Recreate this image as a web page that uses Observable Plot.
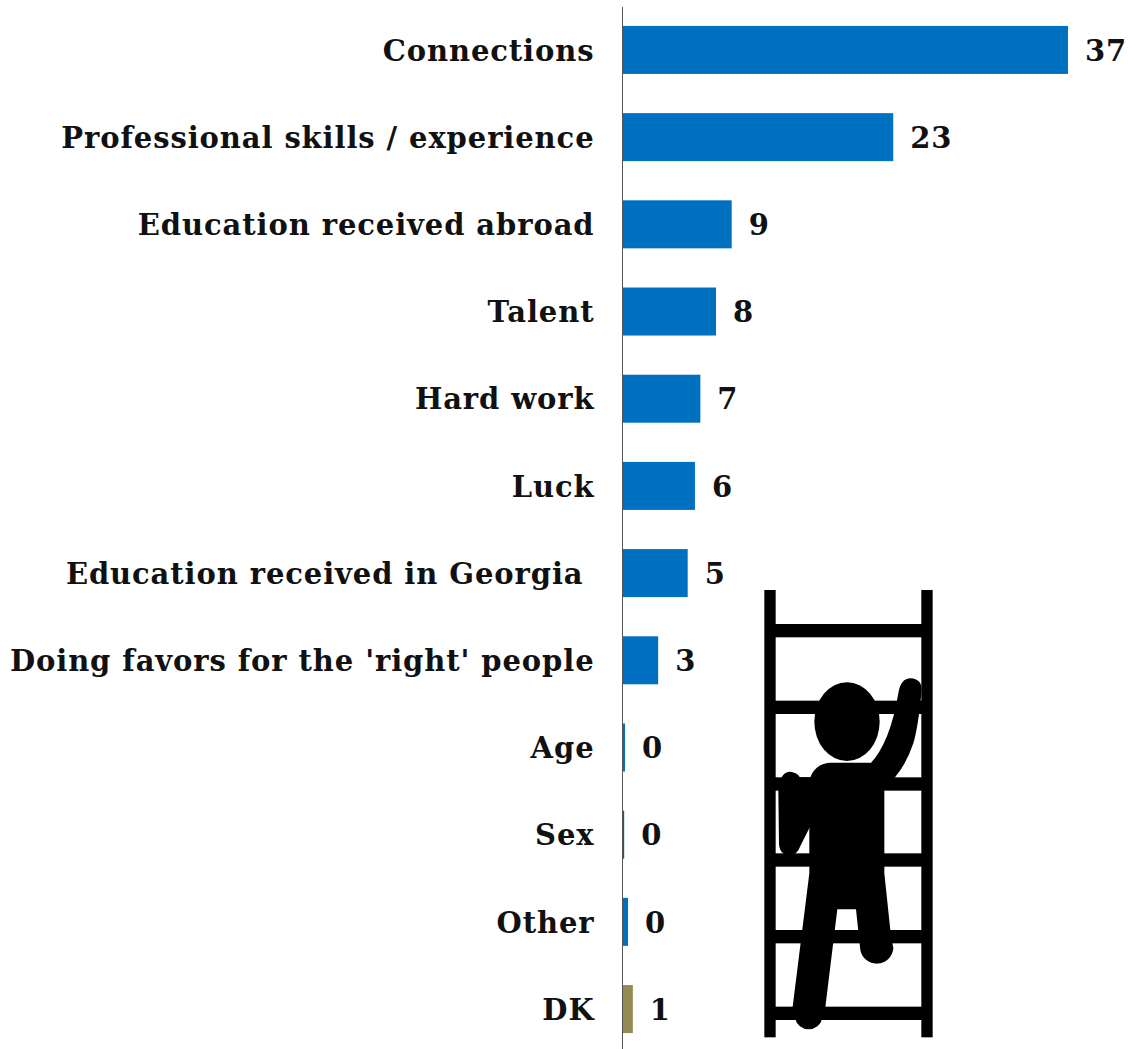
<!DOCTYPE html>
<html>
<head>
<meta charset="utf-8">
<script src="https://cdn.jsdelivr.net/npm/d3@7"></script>
<script src="https://cdn.jsdelivr.net/npm/@observablehq/plot@0.6"></script>
<style>
html,body{margin:0;padding:0;background:#fff;overflow:hidden}
svg text{letter-spacing:0.9px}
</style>
</head>
<body>
<div id="chart"></div>
<script>
const categories = ["Connections","Professional skills / experience","Education received abroad","Talent","Hard work","Luck","Education received in Georgia\u00a0","Doing favors for the 'right' people","Age","Sex","Other","DK"];
const barLengths = [37,22.5,9.1,7.8,6.5,6.05,5.45,3,0.25,0.18,0.5,0.9];
const valueLabels = ["37","23","9","8","7","6","5","3","0","0","0","1"];
const barColors = ["#0070c0","#0070c0","#0070c0","#0070c0","#0070c0","#0070c0","#0070c0","#0070c0","#0070c0","#0a5a96","#0070c0","#948a54"];

const rows = categories.map((c,i)=>({c, v:barLengths[i], label:valueLabels[i], color:barColors[i]}));
const FONT = "'DejaVu Serif', serif";

function climber(){
  const NS="http://www.w3.org/2000/svg";
  const g=document.createElementNS(NS,"g");
  g.setAttribute("transform","translate(750,580) scale(0.33333)");
  const rungs=[132,362,592,820,1050,1280];
  let html=`<rect x="43" y="30" width="34" height="1342"/><rect x="514" y="30" width="34" height="1342"/>`;
  for(const y of rungs) html+=`<rect x="60" y="${y}" width="470" height="40"/>`;
  html+=`<ellipse cx="291" cy="425" rx="98" ry="118"/>`;
  html+=`<path d="M178,600 Q192,552 240,548 L360,548 Q400,556 403,620 L403,880 L422,1060 L430,1105 A50,50 0 0 1 331,1110 L318,988 L262,988 L225,1290 L217,1315 A42,42 0 0 1 135,1315 L128,1280 L178,880 Z"/>`;
  html+=`<path d="M360,552 Q420,490 445,340 Q452,295 482,295 Q515,297 515,330 Q505,440 490,490 Q470,550 435,592 L395,640 Z"/>`;
  html+=`<path d="M85,630 Q90,578 118,575 Q140,576 150,592 L180,592 L180,740 L150,800 Q142,825 118,825 Q88,825 87,790 Z"/>`;
  g.innerHTML=html;
  return g;
}

const chart = Plot.plot({
  width:1128, height:1049,
  marginLeft:622, marginRight:60, marginTop:7, marginBottom:0,
  style:{background:"#fff", fontFamily:FONT},
  x:{domain:[0,37], axis:null},
  y:{domain:categories, paddingInner:0.4494, paddingOuter:0.2, align:0.543, round:false, label:null},
  marks:[
    Plot.barX(rows,{y:"c", x:"v", fill:"color"}),
    Plot.ruleX([0],{stroke:"#555", strokeWidth:1}),
    Plot.axisY({tickSize:0, tickPadding:28, label:null, fontSize:29, fontWeight:700, fill:"#111", dy:1}),
    Plot.text(rows,{y:"c", x:"v", text:"label", dx:16.5, dy:1, textAnchor:"start", fontSize:29, fontWeight:700, fill:"#111"}),
    climber
  ]
});
document.getElementById("chart").appendChild(chart);
</script>
</body>
</html>
